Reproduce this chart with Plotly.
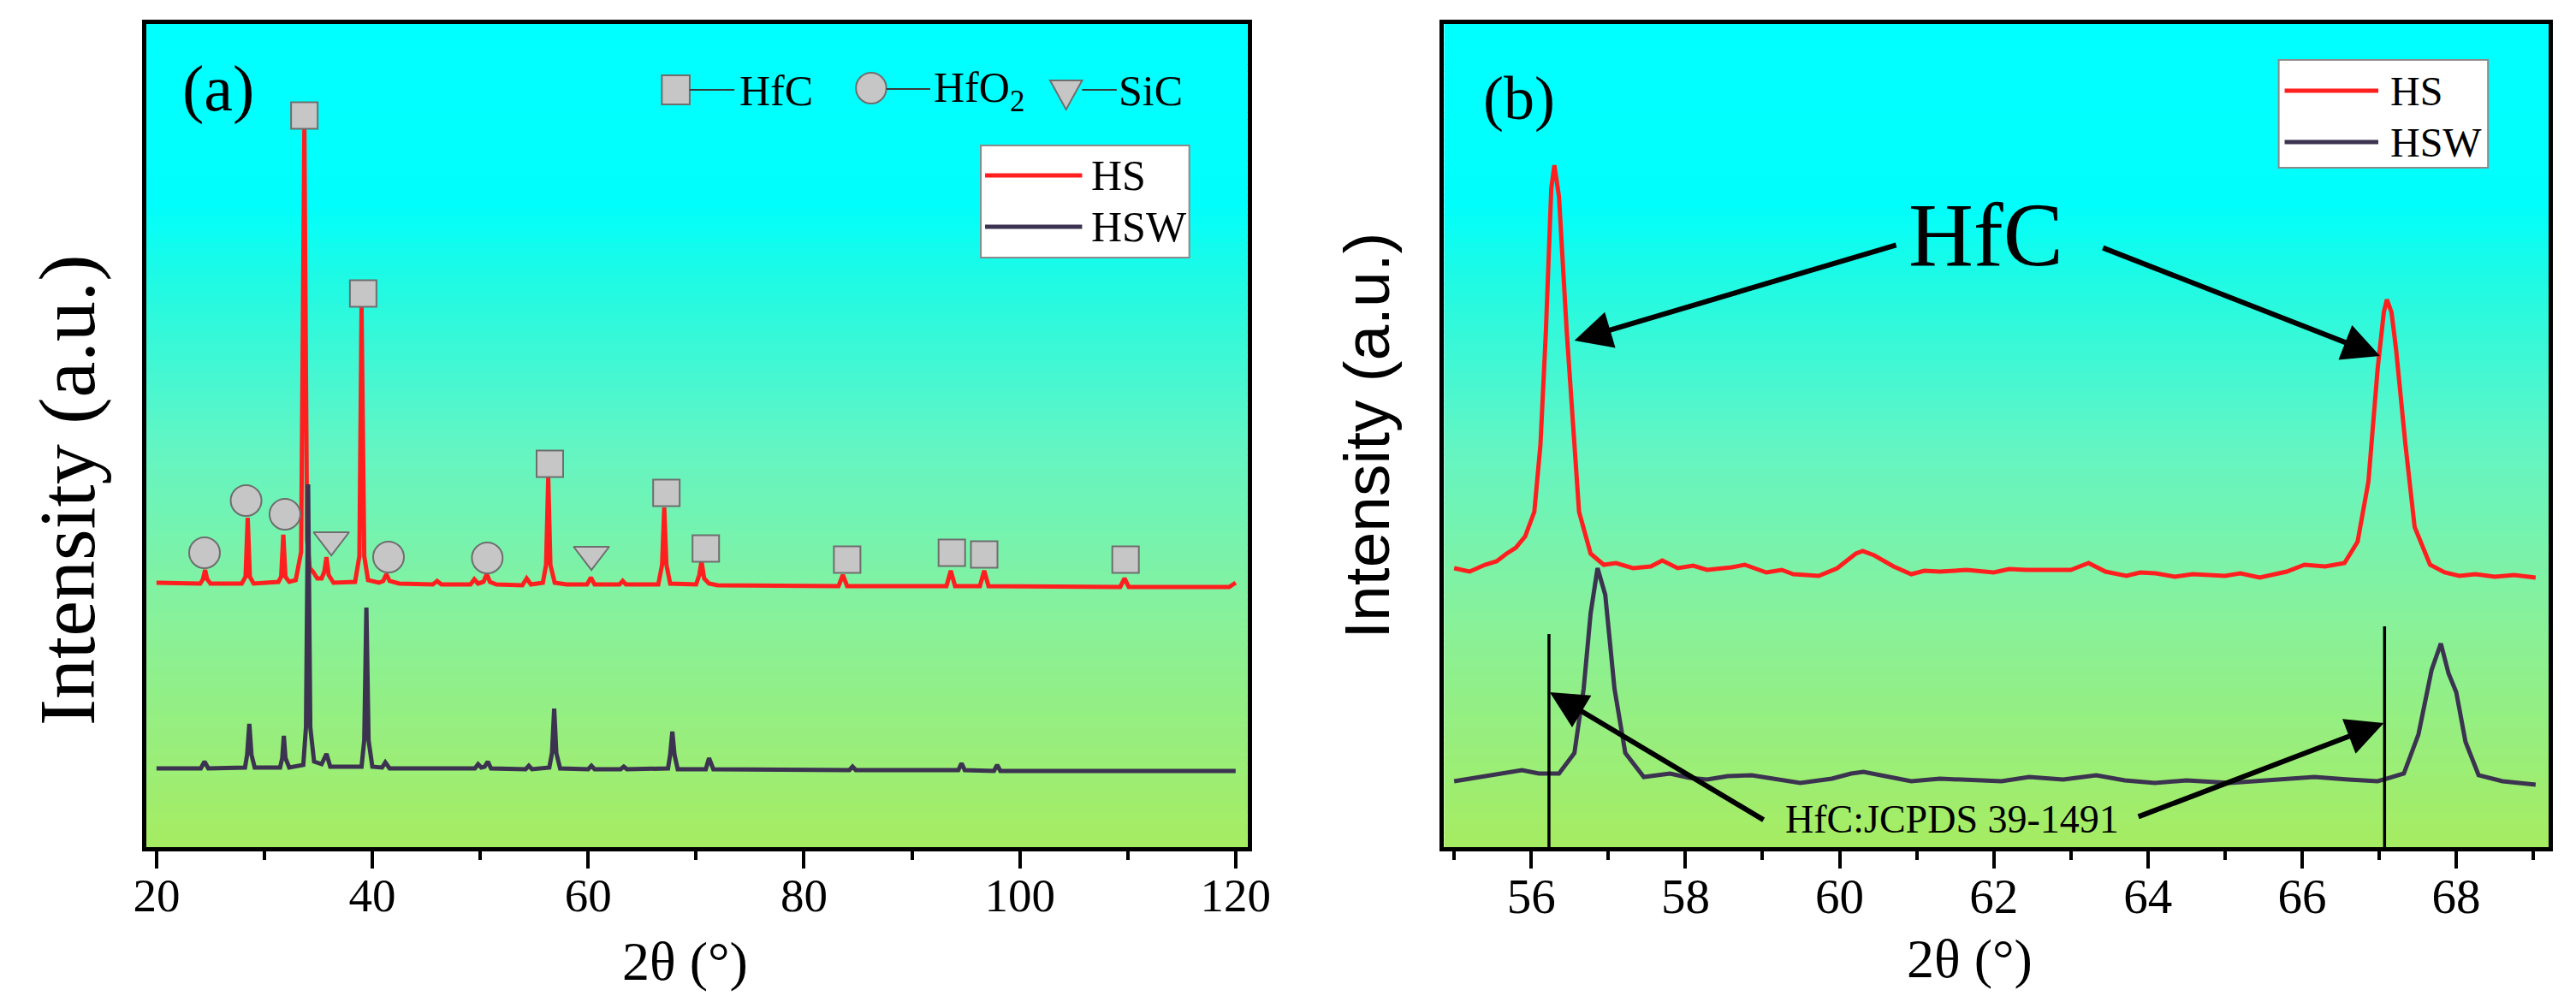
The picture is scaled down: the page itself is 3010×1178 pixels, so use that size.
import plotly.graph_objects as go

W, H = 3010, 1178

# ---- panel (a): full XRD patterns (2theta, intensity a.u.) ----
hs_a_x = [20.0, 22.0, 24.05, 24.3, 24.5, 24.7, 25.0,
          27.9, 28.25, 28.45, 28.65, 29.0,
          30.5, 31.3, 31.55, 31.75, 31.95, 32.3,
          32.9, 33.4, 33.7, 33.95, 34.2, 34.5, 34.9, 35.3, 35.55, 35.75, 35.95, 36.4,
          38.4, 38.8, 39.0, 39.25, 39.6, 40.6, 41.0, 41.3, 41.6, 42.5,
          45.6, 46.0, 46.4, 49.1, 49.45, 49.8, 50.3, 50.6, 50.9, 51.5,
          53.9, 54.3, 54.7, 55.8, 56.1, 56.3, 56.5, 56.9,
          58.0, 59.9, 60.25, 60.6, 62.9, 63.2, 63.5,
          66.5, 66.85, 67.05, 67.25, 67.6,
          70.0, 70.3, 70.5, 70.75, 71.2, 72.0,
          83.2, 83.6, 84.0, 93.2, 93.6, 94.0, 96.3, 96.7, 97.1,
          109.3, 109.7, 110.1, 119.4, 120.0]
hs_a_y = [309, 308, 308, 313, 324, 313, 308,
          308, 316, 385, 316, 308,
          309, 310, 316, 365, 316, 310,
          312, 345, 840, 360, 326, 322, 314, 314, 322, 339, 318, 309,
          310, 340, 632, 340, 312, 309, 311, 319, 311, 308,
          307, 311, 307, 307, 313, 308, 310, 319, 310, 307,
          306, 314, 307, 309, 330, 432, 330, 309,
          307, 307, 315, 307, 307, 311, 307,
          307, 330, 397, 330, 308,
          307, 318, 334, 314, 308, 306,
          305, 318, 305, 305, 323, 305, 305, 323, 305,
          304, 314, 304, 304, 309]

hsw_a_x = [20.0, 24.1, 24.45, 24.8, 28.2, 28.4, 28.6, 28.8, 29.1,
           31.45, 31.65, 31.8, 31.95, 32.3, 33.6, 33.85, 34.05, 34.25, 34.6, 35.3, 35.75, 36.1,
           39.0, 39.25, 39.45, 39.65, 40.0, 40.9, 41.2, 41.6,
           49.5, 49.8, 50.1, 50.4, 50.7, 51.0, 54.2, 54.5, 54.8,
           56.4, 56.65, 56.85, 57.05, 57.4, 60.0, 60.3, 60.6, 63.0, 63.3, 63.6,
           67.4, 67.6, 67.8, 68.0, 68.3, 70.9, 71.2, 71.6,
           84.2, 84.5, 84.8, 94.3, 94.6, 94.9, 97.6, 97.9, 98.2, 120.0]
hsw_a_y = [92, 92, 100, 92, 93, 108, 144, 108, 93,
           93, 104, 130, 104, 93, 96, 140, 424, 140, 100, 97, 109, 94,
           94, 125, 280, 125, 94, 93, 99, 92,
           92, 97, 93, 94, 100, 92, 91, 95, 91,
           93, 110, 162, 110, 92, 91, 95, 91, 91, 94, 91,
           92, 108, 135, 108, 91, 91, 104, 91,
           90, 94, 90, 90, 98, 90, 89, 96, 89, 89]

# phase marks above the HS peaks
hfc_x = [33.7, 39.15, 56.45, 67.25, 70.9, 84.0, 93.7, 96.7, 109.8]
hfc_y = [855, 647, 448, 414, 349, 336, 344, 342, 336]
hfo2_x = [24.45, 28.3, 31.9, 41.5, 50.65]
hfo2_y = [344, 405, 389, 339, 338]
sic_x = [36.2, 60.3]
sic_y = [359, 342]

# ---- panel (b): zoom 55-69 deg ----
hs_b_x = [55.0, 55.2, 55.4, 55.55, 55.68, 55.8, 55.92, 56.04, 56.12, 56.19, 56.26, 56.3, 56.36,
          56.46, 56.56, 56.62, 56.77, 56.94, 57.1, 57.32, 57.55, 57.7, 57.9, 58.1, 58.28, 58.6,
          58.77, 59.05, 59.25, 59.4, 59.73, 59.97, 60.21, 60.3, 60.45, 60.7, 60.93, 61.1, 61.3,
          61.65, 62.0, 62.2, 62.42, 62.66, 63.0, 63.23, 63.45, 63.72, 63.9, 64.1, 64.35, 64.58,
          65.0, 65.2, 65.45, 65.8, 66.03, 66.3, 66.55, 66.72, 66.86, 66.98, 67.06, 67.1, 67.16,
          67.22, 67.34, 67.46, 67.66, 67.85, 68.04, 68.25, 68.5, 68.75, 69.03]
hs_b_y = [326, 322, 330, 334, 343, 350, 363, 392, 471, 603, 770, 797, 760,
          603, 471, 392, 343, 330, 332, 326, 328, 335, 326, 329, 324, 327,
          330, 321, 324, 319, 317, 326, 343, 346, 341, 328, 319, 323, 322,
          324, 321, 325, 324, 324, 324, 332, 322, 317, 321, 320, 316, 319,
          317, 320, 315, 322, 330, 328, 332, 357, 427, 559, 625, 640, 625,
          581, 471, 374, 330, 321, 317, 319, 316, 318, 315]

hsw_b_x = [55.0, 55.2, 55.4, 55.65, 55.88, 56.1, 56.36, 56.56, 56.68, 56.77, 56.86, 56.96, 57.08,
           57.22, 57.46, 57.8, 58.05, 58.28, 58.55, 58.86, 59.2, 59.49, 59.9, 60.15, 60.31, 60.6,
           60.93, 61.3, 61.69, 62.1, 62.46, 62.9, 63.33, 63.7, 64.09, 64.5, 65.06, 65.6, 66.16,
           66.6, 66.98, 67.32, 67.51, 67.68, 67.8, 67.9, 68.0, 68.12, 68.29, 68.6, 68.8, 69.03]
hsw_b_y = [77, 80, 82, 86, 90, 86, 86, 110, 185, 273, 326, 295, 185,
           110, 82, 86, 81, 79, 83, 84, 79, 75, 80, 86, 88, 83,
           77, 80, 79, 77, 82, 79, 84, 78, 75, 78, 75, 78, 82,
           79, 77, 86, 132, 207, 238, 203, 181, 123, 84, 77, 75, 73]

jcpds_x = [56.23, 67.07]
jcpds_top = [249, 258]

RED = "#ff1f1f"
DARK = "#3b3350"
SERIF = "Liberation Serif"
SANS = "Liberation Sans"
GREY_FILL = "#c6c6c6"
GREY_EDGE = "#6e6e6e"


def px(x):
    return x / W


def py(y):
    return 1 - y / H


dom_a = [px(150), px(1455)]
dom_b = [px(1688), px(2997)]
dom_y = [py(982), py(20)]

fig = go.Figure()

fig.add_trace(go.Scatter(x=hs_a_x, y=hs_a_y, mode="lines", line=dict(color=RED, width=5),
                         name="HS", xaxis="x", yaxis="y", showlegend=False))
fig.add_trace(go.Scatter(x=hsw_a_x, y=hsw_a_y, mode="lines", line=dict(color=DARK, width=5),
                         name="HSW", xaxis="x", yaxis="y", showlegend=False))

mk_line = dict(color=GREY_EDGE, width=2)
fig.add_trace(go.Scatter(x=hfc_x, y=hfc_y, mode="markers", name="HfC", showlegend=False,
                         marker=dict(symbol="square", size=31, color=GREY_FILL, line=mk_line)))
fig.add_trace(go.Scatter(x=hfo2_x, y=hfo2_y, mode="markers", name="HfO2", showlegend=False,
                         marker=dict(symbol="circle", size=36, color=GREY_FILL, line=mk_line)))
fig.add_trace(go.Scatter(x=sic_x, y=sic_y, mode="markers", name="SiC", showlegend=False,
                         marker=dict(symbol="triangle-down", size=36, color=GREY_FILL, line=mk_line)))

fig.add_trace(go.Scatter(x=hs_b_x, y=hs_b_y, mode="lines", line=dict(color=RED, width=5),
                         name="HS", xaxis="x2", yaxis="y2", showlegend=False))
fig.add_trace(go.Scatter(x=hsw_b_x, y=hsw_b_y, mode="lines", line=dict(color=DARK, width=5),
                         name="HSW", xaxis="x2", yaxis="y2", showlegend=False))
for xv, top in zip(jcpds_x, jcpds_top):
    fig.add_trace(go.Scatter(x=[xv, xv], y=[0, top], mode="lines", line=dict(color="black", width=3.5),
                             xaxis="x2", yaxis="y2", showlegend=False, hoverinfo="skip"))

# gradient plot background, drawn as thin bands
stops = [(0.0, (0, 255, 255)), (0.22, (0, 255, 252)), (0.31, (30, 250, 228)),
         (0.52, (100, 245, 195)), (0.72, (135, 241, 155)), (1.0, (166, 236, 98))]


def grad(f):
    for (f0, c0), (f1, c1) in zip(stops[:-1], stops[1:]):
        if f <= f1:
            t = (f - f0) / (f1 - f0)
            return "rgb(%d,%d,%d)" % tuple(round(a + (b - a) * t) for a, b in zip(c0, c1))
    return "rgb(%d,%d,%d)" % stops[-1][1]


shapes = []
nb = 120
for dom in (dom_a, dom_b):
    for i in range(nb):
        y1 = dom_y[1] - (dom_y[1] - dom_y[0]) * i / nb
        y0 = dom_y[1] - (dom_y[1] - dom_y[0]) * (i + 1) / nb
        shapes.append(dict(type="rect", xref="paper", yref="paper", x0=dom[0], x1=dom[1],
                           y0=y0, y1=y1 + 0.001, fillcolor=grad((i + 0.5) / nb),
                           line=dict(width=0), layer="below"))

# phase key in panel (a)
shapes += [
    dict(type="rect", xref="paper", yref="paper", x0=px(761), x1=px(794), y0=py(114), y1=py(80),
         fillcolor=GREY_FILL, line=dict(color=GREY_EDGE, width=2)),
    dict(type="line", xref="paper", yref="paper", x0=px(794), x1=px(847), y0=py(97), y1=py(97),
         line=dict(color="#3a3a3a", width=2)),
    dict(type="circle", xref="paper", yref="paper", x0=px(991), x1=px(1027), y0=py(113), y1=py(77),
         fillcolor=GREY_FILL, line=dict(color=GREY_EDGE, width=2)),
    dict(type="line", xref="paper", yref="paper", x0=px(1027), x1=px(1079), y0=py(96), y1=py(96),
         line=dict(color="#3a3a3a", width=2)),
    dict(type="path", xref="paper", yref="paper",
         path="M %f %f L %f %f L %f %f Z" % (px(1221), py(86), px(1259), py(86), px(1240), py(120)),
         fillcolor=GREY_FILL, line=dict(color=GREY_EDGE, width=2)),
    dict(type="line", xref="paper", yref="paper", x0=px(1259), x1=px(1300), y0=py(97), y1=py(97),
         line=dict(color="#3a3a3a", width=2)),
]

# legend boxes
for (bx0, bx1, by0, by1, lx0, lx1, yhs, yhsw) in [(1139, 1386, 162, 293, 1144, 1259, 197, 257),
                                                 (2677, 2925, 62, 188, 2684, 2795, 98, 158)]:
    shapes.append(dict(type="rect", xref="paper", yref="paper", x0=px(bx0), x1=px(bx1),
                       y0=py(by1), y1=py(by0), fillcolor="white", line=dict(color="#8a8a8a", width=2)))
    shapes.append(dict(type="line", xref="paper", yref="paper", x0=px(lx0), x1=px(lx1),
                       y0=py(yhs), y1=py(yhs), line=dict(color=RED, width=5)))
    shapes.append(dict(type="line", xref="paper", yref="paper", x0=px(lx0), x1=px(lx1),
                       y0=py(yhsw), y1=py(yhsw), line=dict(color=DARK, width=5)))


def txt(x, y, s, size, family=SERIF, xanchor="center", angle=0):
    return dict(x=px(x), y=py(y), xref="paper", yref="paper", text=s, showarrow=False,
                xanchor=xanchor, yanchor="middle", textangle=angle,
                font=dict(family=family, size=size, color="black"))


annotations = [
    txt(235, 96, "(a)", 76),
    txt(1777, 107, "(b)", 72),
    txt(56, 565, "Intensity (a.u.)", 94, angle=-90),
    txt(1596, 501, "Intensity (a.u.)", 75, family=SANS, angle=-90),
    txt(789, 1115, "2θ (°)", 64),
    txt(2311, 1112, "2θ (°)", 64),
    txt(851, 98, "HfC", 50, xanchor="left"),
    txt(1081, 98, "HfO<sub>2</sub>", 50, xanchor="left"),
    txt(1300, 98, "SiC", 50, xanchor="left"),
    txt(1268, 197, "HS", 50, xanchor="left"),
    txt(1268, 257, "HSW", 50, xanchor="left"),
    txt(2807, 98, "HS", 48, xanchor="left"),
    txt(2807, 158, "HSW", 48, xanchor="left"),
    txt(2330, 267, "HfC", 105),
    txt(2290, 950, "HfC:JCPDS 39-1491", 46),
]

for hx, hy, tx, ty in [(56.56, 592, 60.75, 704), (67.01, 574, 63.4, 701),
                       (56.24, 181, 59.03, 31), (67.06, 145, 63.86, 35)]:
    annotations.append(dict(x=hx, y=hy, ax=tx, ay=ty, xref="x2", yref="y2", axref="x2", ayref="y2",
                            text="", showarrow=True, arrowhead=2, arrowsize=1.45, arrowwidth=6,
                            arrowcolor="black", standoff=0, startstandoff=0))

xax_common = dict(showline=True, linecolor="black", linewidth=5, mirror=True, showgrid=False,
                  zeroline=False, ticks="outside", ticklen=20, tickwidth=4, tickcolor="black",
                  ticklabelstandoff=-16)
yax_common = dict(showline=True, linecolor="black", linewidth=5, mirror=True, showgrid=False,
                  zeroline=False, showticklabels=False, ticks="", range=[0, 962])

fig.update_layout(
    width=W, height=H, margin=dict(l=0, r=0, t=0, b=0),
    paper_bgcolor="white", plot_bgcolor="rgba(0,0,0,0)",
    font=dict(family=SERIF, color="black"),
    xaxis=dict(domain=dom_a, range=[19.05, 121.1], tickvals=[20, 40, 60, 80, 100, 120],
               tickfont=dict(family=SERIF, size=55),
               minor=dict(tickvals=[30, 50, 70, 90, 110], ticks="outside", ticklen=10, tickwidth=4,
                          tickcolor="black"),
               anchor="y", **xax_common),
    yaxis=dict(domain=dom_y, anchor="x", **yax_common),
    xaxis2=dict(domain=dom_b, range=[54.87, 69.2], tickvals=[56, 58, 60, 62, 64, 66, 68],
                tickfont=dict(family=SERIF, size=57),
                minor=dict(tickvals=[55, 57, 59, 61, 63, 65, 67, 69], ticks="outside", ticklen=10,
                           tickwidth=4, tickcolor="black"),
                anchor="y2", **xax_common),
    yaxis2=dict(domain=dom_y, anchor="x2", **yax_common),
    shapes=shapes,
    annotations=annotations,
)

fig.write_html("out.html")
